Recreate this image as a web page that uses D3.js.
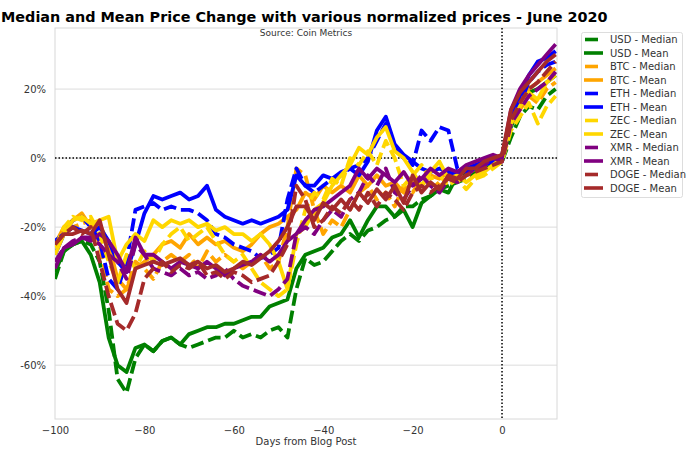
<!DOCTYPE html>
<html><head><meta charset="utf-8">
<script src="https://cdn.jsdelivr.net/npm/d3@7"></script>
<style>body{margin:0;background:#fff}svg{display:block;font-family:"DejaVu Sans",sans-serif}</style>
</head><body><svg id="c" width="696" height="457"></svg>
<script>
const days = d3.range(-100, 13, 2);
const usdMedian = [-35,-27,-25,-24,-25,-30,-44,-64,-68,-58,-54,-56,-53,-52,-54,-55,-54,-53,-52,-52,-50,-52,-51,-52,-50,-49,-52,-38,-29,-31,-30,-27,-24,-22,-24,-21,-20,-18,-17,-14,-14,-12,-11,-9,-8,-7,-6,-4,-3,-2,-1,6,12,15,14,18,20];
const usdMean = [-33,-27,-25,-24,-28,-36,-52,-60,-62,-55,-54,-56,-53,-52,-54,-51,-50,-49,-49,-48,-48,-47,-46,-46,-43,-42,-41,-32,-28,-27,-26,-23,-22,-18,-23,-18,-14,-14,-17,-15,-20,-13,-11,-9,-10,-5,-4,-3,-2,-1,0,9,15,19,20,22,24];
const btcMedian = [-25,-22,-20,-19,-18,-25,-38,-40,-38,-30,-32,-35,-30,-28,-30,-28,-32,-27,-30,-28,-30,-32,-30,-28,-32,-30,-20,-3,-5,-15,-22,-18,-20,-15,-10,-8,-12,-10,-14,-8,-10,-6,-5,-8,-7,-4,-5,-3,-2,-1,0,10,14,18,16,20,22];
const btcMean = [-25,-20,-18,-16,-20,-19,-25,-35,-38,-32,-30,-28,-25,-24,-26,-22,-25,-23,-25,-24,-26,-27,-25,-22,-20,-19,-17,-15,-10,-12,-8,-10,-8,-10,-5,-8,-5,-8,-7,-10,-7,-8,-5,-6,-4,-5,-3,-3,-1,-1,1,12,17,20,22,24,26];
const ethMedian = [-24,-22,-18,-17,-20,-24,-35,-38,-30,-15,-14,-13,-15,-14,-15,-15,-16,-18,-22,-23,-25,-26,-27,-29,-28,-26,-12,-3,-8,-10,-8,-6,-5,-3,-2,0,5,10,3,0,-2,8,5,9,8,-3,-4,-3,-2,-1,0,10,16,22,25,27,28];
const ethMean = [-28,-22,-20,-21,-22,-20,-24,-30,-33,-25,-16,-11,-12,-11,-10,-12,-11,-8,-15,-17,-18,-19,-18,-19,-18,-17,-15,-5,-8,-8,-5,-6,-4,-3,-5,-1,8,12,4,1,-1,-3,-4,-3,-4,-5,-3,-2,-1,-1,1,11,18,24,28,29,31];
const zecMedian = [-26,-20,-17,-18,-17,-22,-30,-36,-28,-32,-27,-30,-25,-22,-20,-24,-22,-20,-24,-28,-30,-28,-32,-36,-38,-40,-38,-25,-15,-10,-12,-6,-8,0,-2,2,-2,5,0,-8,-5,-2,-6,-5,-8,-6,-9,-6,-5,-3,-1,8,12,16,10,15,18];
const zecMean = [-28,-22,-18,-17,-19,-18,-17,-30,-25,-22,-24,-18,-20,-18,-19,-18,-20,-19,-21,-20,-22,-22,-24,-22,-25,-30,-38,-22,-20,-15,-13,-8,-5,-2,3,1,6,9,2,0,-4,-8,-4,-1,-6,-5,-7,-5,-4,-2,0,10,15,19,17,22,24];
const xmrMedian = [-30,-26,-24,-23,-23,-25,-28,-30,-35,-25,-28,-32,-33,-34,-32,-34,-33,-35,-34,-32,-35,-37,-38,-39,-40,-38,-35,-22,-20,-22,-18,-15,-17,-12,-10,-5,-8,-3,-10,-12,-8,-5,-8,-10,-6,-7,-5,-3,-2,0,-1,10,14,18,20,22,25];
const xmrMean = [-32,-26,-25,-23,-24,-22,-24,-28,-33,-23,-28,-28,-30,-32,-30,-31,-32,-30,-32,-34,-32,-31,-30,-28,-30,-28,-24,-22,-18,-15,-14,-12,-10,-8,-3,-6,-3,-5,-7,-4,-8,-6,-3,-5,-3,-4,-2,-1,0,1,0,14,20,24,27,30,33];
const dogeMedian = [-25,-22,-20,-22,-20,-30,-40,-48,-50,-45,-35,-32,-30,-33,-31,-32,-30,-34,-33,-35,-33,-34,-36,-35,-34,-30,-25,-8,-12,-20,-18,-14,-16,-12,-15,-10,-14,-10,-12,-15,-10,-8,-10,-8,-6,-7,-5,-4,-3,-2,-1,11,16,20,22,25,28];
const dogeMean = [-25,-22,-22,-21,-22,-18,-28,-38,-42,-32,-31,-30,-31,-30,-29,-31,-30,-32,-31,-33,-32,-30,-31,-29,-27,-24,-20,-14,-14,-18,-13,-15,-12,-15,-10,-13,-9,-12,-8,-13,-5,-10,-7,-9,-5,-6,-3,-3,-1,0,1,14,19,22,25,28,30];

const seriesNames = ["USD - Median","USD - Mean","BTC - Median","BTC - Mean","ETH - Median","ETH - Mean","ZEC - Median","ZEC - Mean","XMR - Median","XMR - Mean","DOGE - Median","DOGE - Mean"];
const seriesValues = [usdMedian,usdMean,btcMedian,btcMean,ethMedian,ethMean,zecMedian,zecMean,xmrMedian,xmrMean,dogeMedian,dogeMean];
const seriesColors = ["green","green","orange","orange","blue","blue","gold","gold","purple","purple","brown","brown"];
const yTicks = [-60,-40,-20,0,20];
const xTicks = [-100,-80,-60,-40,-20,0];

const svg = d3.select("#c");
const L = 55, R = 557, T = 28, B = 419;
const x = d3.scaleLinear().domain([-100, 12.3]).range([L, R]);
const y = d3.scaleLinear().domain([-75.6, 37.7]).range([B, T]);

// grid
svg.append("g").selectAll("line").data(yTicks).join("line")
  .attr("x1", L).attr("x2", R).attr("y1", d => y(d)).attr("y2", d => y(d))
  .attr("stroke", "#dcdcdc").attr("stroke-width", 1);
svg.append("rect").attr("x", L).attr("y", T).attr("width", R - L).attr("height", B - T)
  .attr("fill", "none").attr("stroke", "#d8d8d8").attr("stroke-width", 1);

// reference lines
svg.append("line").attr("x1", L).attr("x2", R).attr("y1", y(0)).attr("y2", y(0))
  .attr("stroke", "#000").attr("stroke-width", 1.5).attr("stroke-dasharray", "1.5,2");
svg.append("line").attr("x1", x(0)).attr("x2", x(0)).attr("y1", T).attr("y2", B)
  .attr("stroke", "#000").attr("stroke-width", 1.5).attr("stroke-dasharray", "1.5,2");

// axes
const yAxis = d3.axisLeft(y).tickValues(yTicks).tickSize(0).tickPadding(9).tickFormat(d => d + "%");
const gy = svg.append("g").attr("transform", `translate(${L},0)`).call(yAxis);
const xAxis = d3.axisBottom(x).tickValues(xTicks).tickSize(0).tickPadding(8).tickFormat(d => d < 0 ? "\u2212" + Math.abs(d) : d);
const gx = svg.append("g").attr("transform", `translate(0,${B})`).call(xAxis);
[gx, gy].forEach(g => { g.select(".domain").remove(); g.selectAll("text").attr("font-size", 10).attr("fill", "#333").attr("font-family", "DejaVu Sans"); });

// lines
svg.append("clipPath").attr("id", "clp").append("rect").attr("x", L).attr("y", T).attr("width", R - L).attr("height", B - T);
const line = d3.line().x((d, i) => x(days[i])).y(d => y(d));
const g = svg.append("g").attr("clip-path", "url(#clp)");
seriesValues.forEach((vals, i) => {
  g.append("path").attr("d", line(vals)).attr("fill", "none")
    .attr("stroke", seriesColors[i]).attr("stroke-width", 3.8)
    .attr("stroke-linejoin", "round")
    .attr("stroke-dasharray", i % 2 === 0 ? "13,5" : null);
});

// title etc
svg.append("text").attr("x", 1).attr("y", 22).attr("font-size", 14.4).attr("font-weight", "bold")
  .attr("fill", "#000").text("Median and Mean Price Change with various normalized prices - June 2020");
svg.append("text").attr("x", (L + R) / 2).attr("y", 36).attr("text-anchor", "middle").attr("font-size", 9)
  .attr("fill", "#333").text("Source: Coin Metrics");
svg.append("text").attr("x", (L + R) / 2).attr("y", 445).attr("text-anchor", "middle").attr("font-size", 10)
  .attr("fill", "#333").text("Days from Blog Post");

// legend
const lg = svg.append("g");
lg.append("rect").attr("x", 581.5).attr("y", 32.5).attr("width", 101).attr("height", 165)
  .attr("fill", "#fff").attr("stroke", "#ddd").attr("rx", 2);
seriesNames.forEach((n, i) => {
  const yy = 39.5 + i * 13.5;
  const med = i % 2 === 0;
  lg.append("line").attr("x1", med ? 585 : 584).attr("x2", med ? 598 : 603).attr("y1", yy).attr("y2", yy)
    .attr("stroke", seriesColors[i]).attr("stroke-width", 3.6);
  lg.append("text").attr("x", 610).attr("y", yy + 3.5).attr("font-size", 10).attr("fill", "#333").text(n);
});
</script></body></html>
